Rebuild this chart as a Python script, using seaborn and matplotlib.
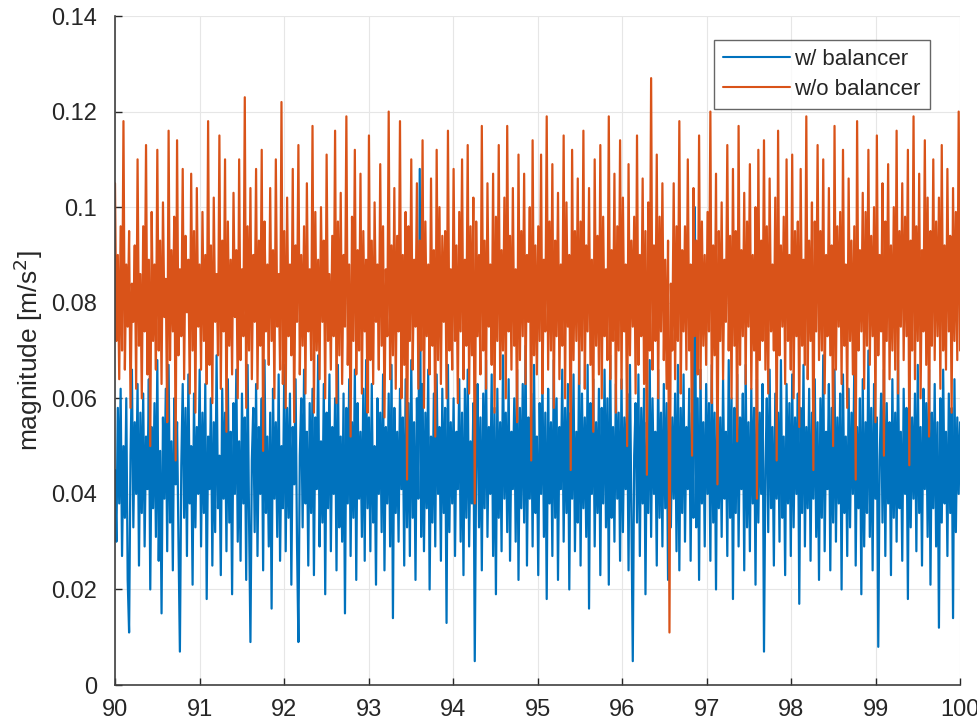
import numpy as np
import pandas as pd
import matplotlib
matplotlib.use("Agg")
import matplotlib.pyplot as plt
import seaborn as sns

# values, in units of 0.001 m/s^2 (t = 90 .. 100 s)
with_balancer = [
    45, 30, 58, 38, 62, 27, 50, 35, 60, 22,
    11, 48, 66, 33, 55, 40, 63, 25, 57, 36,
    61, 29, 52, 41, 64, 20, 54, 37, 59, 31,
    68, 26, 49, 15, 56, 39, 62, 28, 67, 34,
    51, 24, 60, 42, 55, 30, 7, 46, 63, 35,
    58, 27, 65, 38, 50, 21, 61, 33, 54, 40,
    66, 29, 57, 36, 63, 18, 52, 41, 60, 25,
    55, 32, 69, 37, 48, 23, 62, 39, 57, 28,
    64, 34, 53, 19, 59, 40, 66, 30, 51, 26,
    61, 38, 56, 22, 67, 35, 9, 47, 58, 32,
    63, 27, 54, 40, 60, 24, 68, 36, 52, 29,
    57, 16, 62, 39, 55, 31, 65, 26, 50, 37,
    67, 28, 58, 35, 61, 21, 54, 42, 64, 30,
    9, 48, 60, 33, 66, 38, 53, 25, 59, 36,
    62, 23, 56, 41, 69, 29, 51, 34, 63, 19,
    57, 37, 65, 28, 54, 40, 60, 24, 67, 33,
    52, 30, 61, 15, 58, 38, 64, 27, 55, 35,
    66, 22, 59, 39, 53, 31, 62, 26, 68, 37,
    56, 28, 63, 34, 50, 21, 60, 40, 57, 32,
    65, 24, 54, 38, 61, 29, 67, 14, 58, 36,
    53, 30, 62, 41, 56, 25, 64, 33, 59, 27,
    68, 35, 55, 22, 60, 39, 108, 31, 63, 28,
    57, 37, 66, 20, 52, 34, 61, 29, 65, 40,
    54, 26, 62, 36, 58, 13, 67, 32, 55, 38,
    60, 27, 53, 41, 64, 30, 57, 23, 62, 35,
    66, 29, 51, 38, 59, 5, 46, 63, 33, 56,
    24, 61, 37, 68, 31, 54, 40, 65, 27, 58,
    19, 62, 35, 55, 28, 69, 39, 57, 32, 64,
    26, 53, 41, 60, 30, 66, 22, 58, 37, 63,
    34, 71, 25, 56, 39, 61, 29, 67, 36, 52,
    23, 59, 40, 64, 31, 57, 18, 62, 38, 55,
    27, 68, 35, 60, 22, 54, 41, 66, 30, 58,
    36, 63, 20, 57, 39, 65, 28, 53, 34, 70,
    25, 61, 37, 56, 31, 67, 16, 59, 40, 64,
    29, 55, 36, 62, 23, 58, 38, 66, 33, 60,
    21, 69, 35, 54, 30, 63, 39, 57, 26, 64,
    32, 56, 41, 61, 24, 67, 37, 5, 48, 59,
    34, 65, 27, 58, 38, 62, 19, 55, 36, 68,
    31, 60, 40, 53, 25, 66, 35, 57, 29, 63,
    37, 59, 22, 64, 33, 56, 39, 61, 28, 67,
    24, 58, 36, 65, 30, 54, 41, 62, 26, 57,
    35, 100, 33, 60, 22, 66, 38, 55, 29, 63,
    40, 59, 26, 67, 34, 57, 20, 62, 37, 56,
    31, 64, 39, 53, 27, 68, 35, 60, 18, 58,
    36, 65, 29, 56, 41, 61, 24, 67, 33, 55,
    28, 62, 38, 58, 21, 64, 34, 57, 40, 63,
    7, 45, 60, 32, 66, 37, 54, 25, 61, 39,
    57, 30, 68, 35, 52, 23, 63, 38, 59, 27,
    65, 33, 56, 40, 61, 17, 58, 36, 67, 29,
    54, 37, 62, 26, 57, 39, 64, 31, 55, 22,
    60, 35, 69, 28, 53, 41, 63, 24, 58, 34,
    66, 30, 56, 38, 61, 20, 65, 36, 52, 27,
    62, 33, 57, 40, 67, 25, 54, 37, 60, 19,
    64, 29, 55, 36, 70, 31, 58, 24, 63, 39,
    56, 8, 47, 61, 34, 66, 27, 59, 38, 55,
    23, 64, 35, 57, 30, 68, 37, 53, 26, 62,
    40, 58, 18, 65, 33, 56, 39, 61, 28, 67,
    36, 54, 25, 62, 41, 59, 31, 66, 21, 57,
    37, 63, 29, 55, 12, 60, 34, 66, 38, 53,
    27, 61, 36, 58, 14, 64, 32, 56, 40, 55,
]

without_balancer = [
    105, 72, 90, 64, 96, 70, 118, 66, 88, 75,
    95, 58, 84, 76, 92, 62, 110, 71, 86, 60,
    96, 74, 113, 65, 89, 50, 99, 72, 88, 66,
    112, 70, 93, 63, 101, 77, 85, 55, 116, 68,
    91, 74, 98, 47, 114, 69, 87, 73, 108, 64,
    94, 78, 89, 61, 107, 70, 95, 57, 104, 75,
    88, 66, 99, 72, 90, 63, 118, 67, 92, 59,
    102, 76, 86, 69, 115, 62, 93, 74, 110, 53,
    97, 71, 89, 65, 103, 77, 91, 60, 110, 68,
    87, 73, 123, 58, 96, 70, 104, 64, 90, 76,
    108, 62, 93, 71, 112, 49, 97, 74, 88, 67,
    104, 72, 91, 60, 110, 75, 86, 66, 122, 63,
    95, 58, 102, 73, 88, 69, 108, 55, 92, 76,
    113, 65, 90, 71, 96, 61, 105, 74, 87, 68,
    117, 57, 99, 70, 89, 64, 100, 76, 93, 60,
    111, 72, 86, 66, 94, 73, 116, 59, 97, 69,
    103, 63, 90, 75, 119, 67, 88, 52, 98, 72,
    112, 65, 91, 70, 107, 61, 95, 74, 89, 57,
    115, 68, 93, 63, 101, 76, 88, 66, 109, 71,
    96, 56, 87, 73, 120, 64, 92, 69, 104, 62,
    94, 74, 118, 60, 90, 67, 99, 43, 96, 72,
    110, 66, 89, 75, 105, 62, 93, 70, 114, 58,
    97, 73, 88, 65, 106, 71, 91, 52, 112, 68,
    100, 63, 94, 76, 95, 60, 116, 70, 87, 66,
    108, 72, 92, 59, 99, 74, 110, 64, 89, 71,
    113, 61, 96, 69, 102, 38, 97, 73, 90, 65,
    117, 70, 93, 62, 105, 75, 88, 67, 107, 57,
    98, 72, 113, 64, 91, 70, 102, 60, 117, 74,
    94, 66, 104, 71, 87, 55, 111, 68, 95, 73,
    107, 63, 90, 76, 100, 47, 114, 69, 92, 65,
    96, 72, 111, 61, 89, 74, 119, 66, 97, 70,
    109, 58, 93, 73, 103, 64, 88, 71, 115, 60,
    101, 75, 90, 45, 112, 68, 95, 72, 106, 63,
    97, 70, 116, 62, 92, 74, 104, 67, 89, 53,
    110, 71, 94, 65, 113, 60, 98, 73, 87, 68,
    119, 64, 91, 72, 107, 57, 96, 70, 114, 62,
    102, 74, 88, 50, 109, 69, 93, 75, 98, 61,
    115, 67, 90, 73, 106, 63, 95, 44, 101, 70,
    127, 66, 92, 72, 111, 60, 98, 74, 105, 68,
    89, 62, 93, 11, 84, 70, 105, 64, 96, 72,
    118, 61, 91, 74, 96, 66, 110, 70, 88, 48,
    104, 73, 93, 65, 115, 62, 97, 71, 90, 67,
    99, 74, 120, 59, 92, 69, 107, 42, 95, 72,
    101, 64, 89, 76, 113, 70, 94, 60, 108, 71,
    95, 51, 117, 67, 91, 73, 103, 63, 97, 75,
    109, 62, 90, 70, 100, 39, 112, 68, 93, 72,
    114, 66, 96, 61, 106, 74, 88, 70, 102, 47,
    116, 69, 92, 75, 98, 63, 110, 72, 90, 66,
    111, 60, 95, 73, 97, 54, 108, 71, 89, 67,
    119, 64, 93, 72, 101, 45, 97, 74, 113, 68,
    95, 70, 110, 61, 90, 73, 104, 69, 92, 50,
    117, 66, 96, 75, 99, 63, 112, 71, 88, 58,
    106, 72, 93, 65, 96, 43, 118, 70, 91, 74,
    103, 62, 99, 71, 112, 67, 94, 73, 100, 55,
    115, 69, 90, 74, 105, 48, 97, 72, 109, 64,
    92, 70, 100, 66, 116, 61, 95, 75, 105, 68,
    98, 73, 112, 46, 93, 70, 119, 64, 96, 72,
    107, 60, 91, 74, 114, 67, 102, 52, 95, 71,
    110, 68, 97, 73, 102, 62, 113, 70, 92, 66,
    108, 74, 94, 57, 104, 72, 99, 68, 120, 70,
]

series_names = ["w/ balancer", "w/o balancer"]
xticks = [90, 91, 92, 93, 94, 95, 96, 97, 98, 99, 100]
yticks = [0, 0.02, 0.04, 0.06, 0.08, 0.1, 0.12, 0.14]
ytick_labels = ["0", "0.02", "0.04", "0.06", "0.08", "0.1", "0.12", "0.14"]

n = len(with_balancer)
t = np.linspace(90, 100, n)
df = pd.DataFrame({
    "time": np.concatenate([t, t]),
    "magnitude": np.array(with_balancer + without_balancer) / 1000.0,
    "series": [series_names[0]] * n + [series_names[1]] * n,
})

sns.set_theme(style="whitegrid")
plt.rcParams["font.family"] = ["Liberation Sans", "DejaVu Sans"]

fig = plt.figure(figsize=(9.77, 7.28), dpi=100)
ax = fig.add_axes([0.1177, 0.059, 0.865, 0.919])

sns.lineplot(data=df, x="time", y="magnitude", hue="series", estimator=None,
             palette=["#0072BD", "#D95319"], linewidth=1.6, ax=ax)

ax.set_xlim(90, 100)
ax.set_ylim(0, 0.14)
ax.set_xticks(xticks)
ax.set_xticklabels([str(v) for v in xticks])
ax.set_yticks(yticks)
ax.set_yticklabels(ytick_labels)
ax.set_xlabel("")
ax.set_ylabel("magnitude [m/s$^2$]", fontsize=19, color="#262626", labelpad=4)
ax.tick_params(axis="both", labelsize=17, colors="#262626", direction="in",
               length=5, width=1, bottom=True, left=True)
ax.tick_params(axis="x", pad=10)
ax.tick_params(axis="y", pad=13)
ax.grid(True, color="#e6e6e6", linewidth=0.8)
for side in ["top", "right"]:
    ax.spines[side].set_visible(False)
for side in ["left", "bottom"]:
    ax.spines[side].set_color("#404040")
    ax.spines[side].set_linewidth(1.2)

leg = ax.legend(loc="upper right", bbox_to_anchor=(0.977, 0.981), fontsize=16,
                frameon=True, fancybox=False, handlelength=3.0, handletextpad=0.2,
                borderpad=0.4, labelspacing=0.4)
leg.get_frame().set_edgecolor("#404040")
leg.get_frame().set_linewidth(1.0)
for line in leg.get_lines():
    line.set_linewidth(1.5)
leg.set_title(None)

fig.savefig("out.png", dpi=100)
